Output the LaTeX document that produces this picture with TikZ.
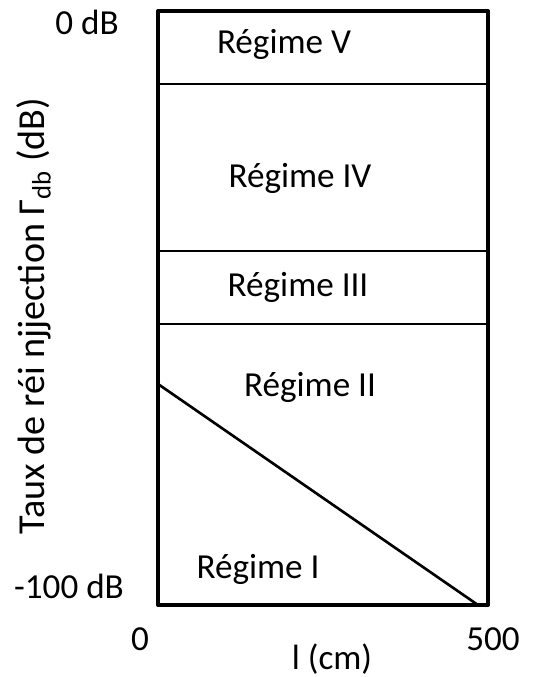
\documentclass[tikz,border=0pt]{standalone}
\usepackage{fontspec}
\setmainfont{Carlito}
\tikzset{
    regime/.style={font=\fontsize{20}{24}\selectfont},
    ticklabel/.style={font=\fontsize{20}{24}\selectfont},
    frame/.style={line width=2.3pt},
    border/.style={line width=1.2pt},
}
\begin{document}
\begin{tikzpicture}[x=0.02cm, y=-0.02cm]
\useasboundingbox (0,0) rectangle (538,677);
% corners of the chart
\coordinate (topleft) at (158,11);
\coordinate (botright) at (488,605);
% regime borders
\foreach \name/\y in {one/84, two/251, three/324}{
    \coordinate (\name-l) at (158,\y);
    \coordinate (\name-r) at (488,\y);
    \draw[border] (\name-l)--(\name-r);
}
\coordinate (lineA) at (158,384);
\coordinate (lineB) at (478,605);
\draw[line width=1.5pt] (lineA)--(lineB);
\draw[frame, line join=round] (topleft) rectangle (botright);
% texts
\node[regime] (r5) at (284,44){Régime V};
\node[regime] (r4) at (300,178){Régime IV};
\node[regime] (r3) at (298,287){Régime III};
\node[regime] (r2) at (310,387){Régime II};
\node[regime] (r1) at (258,569){Régime I};
\node[ticklabel] (ytop) at (87,22){0 dB};
\node[ticklabel] (ybot) at (69,586){-100 dB};
\node[ticklabel] (x0) at (140,639){0};
\node[ticklabel] (x500) at (493,639){500};
\node[ticklabel] (xlab) at (332,659){l (cm)};
\node[font=\fontsize{21.7}{26}\selectfont, rotate=90] (ylab) at (34,316){Taux de réi njjection Γ\textsubscript{db} (dB)};
\end{tikzpicture}
\end{document}
